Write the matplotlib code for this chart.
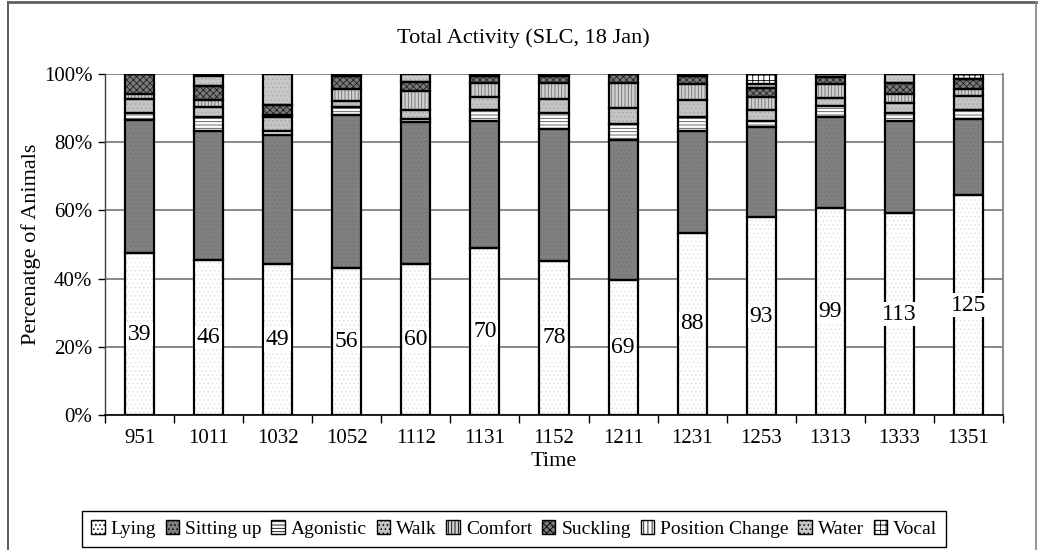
import matplotlib
matplotlib.use("Agg")
import matplotlib.pyplot as plt
import numpy as np
from matplotlib.patches import Patch
from matplotlib.lines import Line2D

plt.rcParams['font.family'] = ['Liberation Serif', 'DejaVu Serif']
plt.rcParams['hatch.linewidth'] = 0.6

times = ['951', '1011', '1032', '1052', '1112', '1131', '1152', '1211',
         '1231', '1253', '1313', '1333', '1351']
counts = [39, 46, 49, 56, 60, 70, 78, 69, 88, 93, 99, 113, 125]

lying      = [47.5, 45.5, 44.3, 43.1, 44.3, 49.0, 45.2, 39.6, 53.4, 58.0, 60.7, 59.2, 64.5]
sitting_up = [39.1, 37.8, 37.9, 44.9, 41.6, 37.1, 38.7, 41.1, 29.9, 26.6, 26.7, 26.9, 22.2]
agonistic  = [1.9, 4.2, 1.1, 2.2, 0.9, 3.4, 4.8, 4.6, 4.2, 1.5, 3.3, 2.6, 2.7]
walk       = [4.2, 2.7, 4.2, 2.0, 2.6, 3.9, 4.0, 4.7, 4.8, 3.4, 2.2, 2.8, 4.2]
comfort    = [1.4, 2.1, 0.5, 3.3, 5.5, 4.1, 4.7, 7.4, 4.8, 3.9, 4.2, 2.6, 1.9]
suckling   = [5.9, 4.1, 3.0, 3.8, 2.7, 1.9, 2.0, 2.6, 2.4, 2.4, 1.9, 3.4, 3.1]
pos_change = [0.0, 0.0, 0.0, 0.0, 0.0, 0.0, 0.0, 0.0, 0.0, 0.0, 0.0, 0.0, 0.0]
water      = [0.0, 3.1, 9.0, 0.0, 2.4, 0.0, 0.0, 0.0, 0.0, 1.4, 1.0, 2.5, 0.0]
vocal      = [0.0, 0.5, 0.0, 0.7, 0.0, 0.6, 0.6, 0.0, 0.5, 2.8, 0.0, 0.0, 1.4]

series_names = ['Lying', 'Sitting up', 'Agonistic', 'Walk', 'Comfort',
                'Suckling', 'Position Change', 'Water', 'Vocal']
series_vals = [lying, sitting_up, agonistic, walk, comfort, suckling,
               pos_change, water, vocal]

# (facecolor, hatch, hatchcolor)
styles = [
    ('#ffffff', '....', '#e2e2e2'),
    ('#808080', '....', '#747474'),
    ('#ffffff', '-----', '#505050'),
    ('#c4c4c4', '....', '#a8a8a8'),
    ('#d0d0d0', '|||||', '#707070'),
    ('#7a7a7a', 'xxxxx', '#202020'),
    ('#ffffff', '||||', '#404040'),
    ('#c8c8c8', '....', '#acacac'),
    ('#ffffff', '+++', '#000000'),
]

fig = plt.figure(figsize=(10.46, 5.5), dpi=100)
W, H = 1046, 550
ax = fig.add_axes([105 / W, 1 - 415 / H, (1003 - 105) / W, (415 - 74) / H])

x = np.arange(len(times))
bw = 0.42
bottom = np.zeros(len(times))
containers = []
for vals, (fc, ht, hc) in zip(series_vals, styles):
    v = np.array(vals)
    c = ax.bar(x, v, bw, bottom=bottom, color=fc, hatch=ht, edgecolor=hc,
               linewidth=0, zorder=2)
    ax.bar(x, v, bw, bottom=bottom, fill=False, edgecolor='black',
           linewidth=1.6, zorder=3)
    containers.append(c)
    bottom += v

ax.bar_label(containers[0], labels=[str(n) for n in counts], label_type='center',
             fontsize=17, zorder=5,
             bbox=dict(facecolor='white', edgecolor='none', pad=1.0))

ax.set_xlim(-0.5, len(times) - 0.5)
ax.set_ylim(0, 100)
ax.set_yticks(np.arange(0, 101, 20))
ax.set_yticklabels([f'{v}%' for v in range(0, 101, 20)], fontsize=15)
ax.yaxis.grid(True, color='#808080', linewidth=1.3, zorder=0)
ax.set_axisbelow(True)

ax.set_xticks(np.arange(-0.5, len(times), 1.0))
ax.set_xticklabels([])
ax.set_xticks(x, minor=True)
ax.set_xticklabels(times, minor=True, fontsize=15)
ax.tick_params(axis='x', which='minor', length=0, pad=10)
ax.tick_params(axis='x', which='major', length=6, direction='out', width=1)
ax.tick_params(axis='y', length=5, direction='out', width=1, pad=4)

ax.spines['top'].set_visible(False)
ax.spines['right'].set_color('#808080')
ax.spines['right'].set_linewidth(1.3)
ax.spines['left'].set_color('#404040')
ax.spines['bottom'].set_color('black')
ax.spines['left'].set_linewidth(1.0)
ax.spines['bottom'].set_linewidth(1.2)

ax.set_ylabel('Percenatge of Animals', fontsize=16, labelpad=2)
ax.set_xlabel('Time', fontsize=16, labelpad=3)
fig.text(523 / W, 1 - 38 / H, 'Total Activity (SLC, 18 Jan)', fontsize=16,
         ha='center', va='center')

handles = [Patch(facecolor=fc, hatch=ht, edgecolor='black', linewidth=1.0)
           for (fc, ht, hc) in styles]
leg = fig.legend(handles, series_names, loc='center', ncol=9,
                 bbox_to_anchor=(514 / W, 1 - 529 / H), fontsize=14,
                 handlelength=0.7, handleheight=0.7, handletextpad=0.3,
                 columnspacing=0.5, fancybox=False, framealpha=1,
                 edgecolor='black', borderpad=0.45)
leg.get_frame().set_linewidth(1.0)

# chart-area border
fig.add_artist(Line2D([8 / W, 8 / W], [0, 1 - 2 / H], transform=fig.transFigure,
                      color='#404040', linewidth=1.2))
fig.add_artist(Line2D([8 / W, 1036 / W], [1 - 2 / H, 1 - 2 / H],
                      transform=fig.transFigure, color='#606060', linewidth=2))
fig.add_artist(Line2D([1036 / W, 1036 / W], [0, 1 - 2 / H],
                      transform=fig.transFigure, color='#808080', linewidth=1.2))

fig.savefig('out.png', dpi=100)
